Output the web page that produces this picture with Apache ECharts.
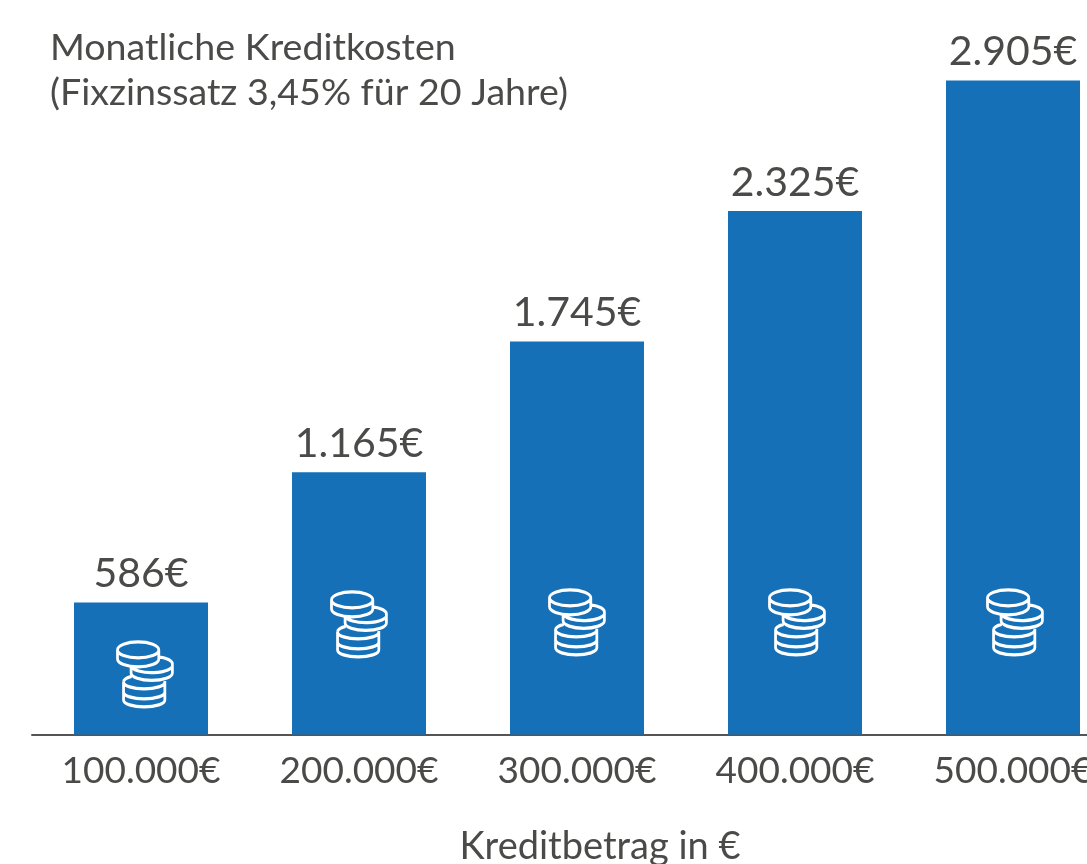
<!DOCTYPE html>
<html>
<head>
<meta charset="utf-8">
<style>
  html, body { margin: 0; background: #fff; }
  #chart { width: 1087px; height: 864px; }
</style>
<script src="https://cdn.jsdelivr.net/npm/echarts@6/dist/echarts.min.js"></script>
</head>
<body>
<div id="chart"></div>
<script>
const categories = ['100.000€', '200.000€', '300.000€', '400.000€', '500.000€']
const monthlyCost = [586, 1165, 1745, 2325, 2905]
// height of the coin icon inside each bar, in axis units
const iconLevel = [267, 489, 498, 498, 498]
const iconShift = [4, 0, 0, 2, 2]

const textColor = '#4a4a48'
const barColor = '#1570b8'
const fontFamily = 'Lato, "Open Sans", sans-serif'

// coin stack, drawn as outline
const coinPath = 'path://' +
  'M1 8A20.5 8 0 1 1 42 8A20.5 8 0 1 1 1 8Z' +
  'M1 8V17A20.5 8 0 0 0 42 17V8' +
  'M42 15A20.5 7.5 0 0 1 55.5 22.5V31A20.5 7.5 0 0 1 14.5 31V25' +
  'M14.5 24A20.5 7.5 0 0 0 55.5 22.5' +
  'M7 40A20.5 7 0 0 1 15 34.5' +
  'M7 40V58A20.5 7 0 0 0 48 58V39' +
  'M7 40A20.5 7 0 0 0 48 40' +
  'M7 50A20.5 7 0 0 0 48 50'

const chart = echarts.init(document.getElementById('chart'))
chart.setOption({
  animation: false,
  title: {
    text: 'Monatliche Kreditkosten\n(Fixzinssatz 3,45% für 20 Jahre)',
    left: 45,
    top: 20,
    textStyle: {
      color: textColor,
      fontFamily,
      fontWeight: 'normal',
      fontSize: 37.6,
      lineHeight: 45
    }
  },
  grid: { left: 32, top: 59, width: 1090, height: 675.5, outerBoundsMode: 'none' },
  xAxis: {
    type: 'category',
    data: categories,
    name: 'Kreditbetrag in €',
    nameLocation: 'middle',
    nameGap: 93,
    nameTextStyle: { color: textColor, fontFamily, fontSize: 38, padding: [0, 0, 0, 46] },
    axisLine: { lineStyle: { color: '#555', width: 2 } },
    axisTick: { show: false },
    axisLabel: { color: textColor, fontFamily, fontSize: 37, margin: 18, interval: 0 }
  },
  yAxis: { type: 'value', min: 0, max: 3000, show: false },
  series: [
    {
      type: 'bar',
      data: monthlyCost,
      barWidth: 134,
      itemStyle: { color: barColor },
      label: {
        show: true,
        position: 'top',
        distance: 8,
        color: textColor,
        fontFamily,
        fontSize: 41,
        formatter: p => p.value.toLocaleString('de-DE') + '€'
      }
    },
    {
      type: 'scatter',
      data: iconLevel.map((v, i) => ({
        value: [i, v],
        symbolOffset: [iconShift[i], 0]
      })),
      symbol: coinPath,
      symbolSize: [55, 65],
      silent: true,
      z: 5,
      itemStyle: { color: 'transparent', borderColor: '#fff', borderWidth: 3, opacity: 1 }
    }
  ]
})
</script>
</body>
</html>
